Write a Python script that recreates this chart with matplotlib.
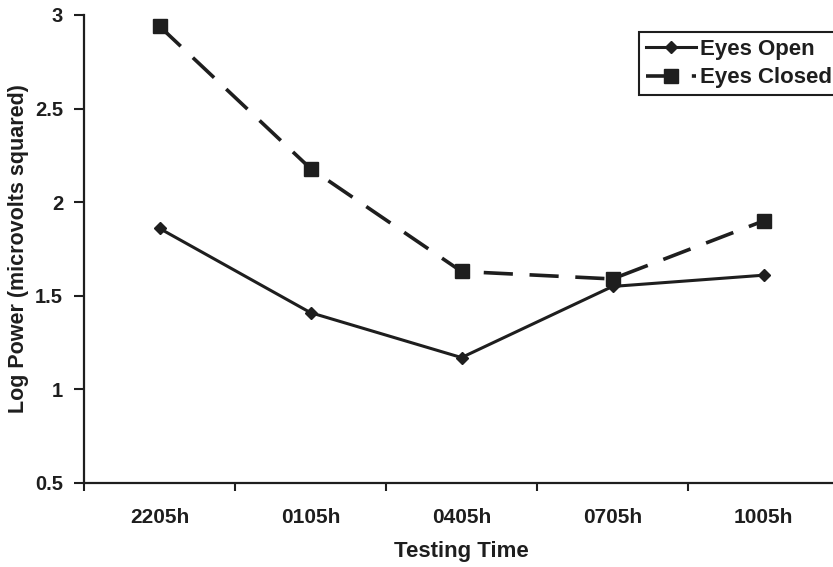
import matplotlib
matplotlib.use('Agg')
from matplotlib import pyplot as plt

# data
times = ['2205h', '0105h', '0405h', '0705h', '1005h']
eyesOpen = [1.86, 1.41, 1.17, 1.55, 1.61]
eyesClosed = [2.94, 2.18, 1.63, 1.59, 1.90]

plt.rcParams['font.family'] = ['Liberation Sans', 'DejaVu Sans']
plt.rcParams['font.weight'] = 'bold'
plt.rcParams['axes.labelweight'] = 'bold'
plt.rcParams['lines.scale_dashes'] = False

ink = '#1e1e1e'

fig = plt.figure(figsize=(8.33, 5.67), dpi=100)
ax = fig.add_axes([84/833, 84/567, 755/833, 468/567])

x = list(range(len(times)))
ax.plot(x, eyesOpen, color=ink, lw=2.2, marker='D', ms=6, label='Eyes Open')
ax.plot(x, eyesClosed, color=ink, lw=2.6, dashes=(21, 12), marker='s', ms=10,
        label='Eyes Closed')

ax.set_xlim(-0.5, len(times) - 0.5)
ax.set_ylim(0.5, 3)
ax.set_yticks([0.5, 1, 1.5, 2, 2.5, 3])
ax.set_yticklabels(['0.5', '1', '1.5', '2', '2.5', '3'])

# category ticks sit between the groups, labels in the middle
ax.set_xticks([i - 0.5 for i in range(len(times) + 1)])
ax.set_xticklabels([])
ax.set_xticks(x, minor=True)
ax.set_xticklabels(times, minor=True)
ax.tick_params(axis='x', which='minor', length=0, pad=18, labelsize=15, colors=ink)
ax.tick_params(axis='x', which='major', length=6, width=1.5, color=ink)
ax.tick_params(axis='y', length=7, width=1.5, pad=8, labelsize=14.5, colors=ink)

for side in ['top', 'right']:
    ax.spines[side].set_visible(False)
for side in ['left', 'bottom']:
    ax.spines[side].set_linewidth(1.6)
    ax.spines[side].set_color(ink)

ax.set_xlabel('Testing Time', fontsize=16, color=ink, labelpad=10)
ax.set_ylabel('Log Power (microvolts squared)', fontsize=15.5, color=ink)
ax.yaxis.set_label_coords(-0.073, 0.5)

leg = fig.legend(loc='upper left', bbox_to_anchor=(639/833, 1 - 32/567),
                 fontsize=16, handlelength=2.25, handletextpad=0.2,
                 borderpad=0.3, labelspacing=0.35, fancybox=False,
                 framealpha=1, edgecolor=ink, borderaxespad=0)
leg.get_frame().set_linewidth(1.5)
for t in leg.get_texts():
    t.set_color(ink)

fig.savefig('out.png', dpi=100)
